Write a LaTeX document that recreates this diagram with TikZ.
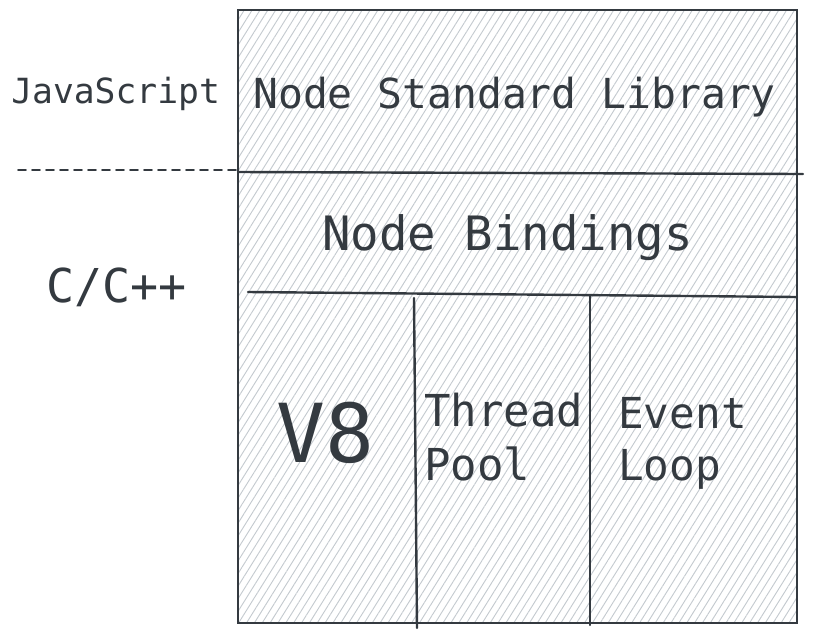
\documentclass[tikz,border=0pt]{standalone}
\usepackage{fontspec}
\setmonofont{DejaVu Sans Mono}
\usetikzlibrary{patterns.meta}
\definecolor{tinta}{HTML}{343A40}
\definecolor{hachura}{HTML}{C4CACF}

\begin{document}
\begin{tikzpicture}[x=0.75pt,y=-0.75pt,
  rotulo/.style={text=tinta,inner sep=0pt,anchor=base west},
  linha/.style={draw=tinta,line width=1.8pt,line cap=round}]
	\useasboundingbox (0,0) rectangle (813,640);
	% caixa hachurada
	\fill[pattern={Lines[angle=58,distance=5pt,line width=0.7pt]},pattern color=hachura]
  (238,10) rectangle (797,623);
	\draw[linha] (238,10) rectangle (797,623);
	% divisoes
	\coordinate (jsE) at (238,170);
	\coordinate (jsW) at (18,170);
	\coordinate (c1W) at (238,172);
	\coordinate (c1E) at (803,174);
	\coordinate (c2W) at (248,292);
	\coordinate (c2E) at (797,297);
	\draw[linha] (c1W) -- (c1E);
	\draw[linha] (c2W) -- (c2E);
	\draw[linha] (414,298) -- (417,628);
	\draw[linha] (590,296) -- (590,625);
	\draw[linha,line width=1.3pt,dash pattern=on 6pt off 4.5pt] (jsW) -- (jsE);
	% rotulos das camadas
	\node[rotulo,font=\ttfamily\fontsize{26}{26}\selectfont] (js) at (11,103) {JavaScript};
	\node[rotulo,font=\ttfamily\fontsize{35}{35}\selectfont] (cpp) at (46,302) {C/C++};
	% blocos
	\node[rotulo,font=\ttfamily\fontsize{31}{31}\selectfont] (std) at (253,108) {Node Standard Library};
	\node[rotulo,font=\ttfamily\fontsize{35.5}{35.5}\selectfont] (bind) at (322,250) {Node Bindings};
	\node[rotulo,font=\ttfamily\fontsize{61}{61}\selectfont] (v8) at (276,462) {V8};
	\node[rotulo,align=left,font=\ttfamily\fontsize{33}{40}\selectfont] (pool) at (424,480) {Thread\\Pool};
	\node[rotulo,align=left,font=\ttfamily\fontsize{32}{39}\selectfont] (loop) at (618,480) {Event\\Loop};
\end{tikzpicture}
\end{document}
